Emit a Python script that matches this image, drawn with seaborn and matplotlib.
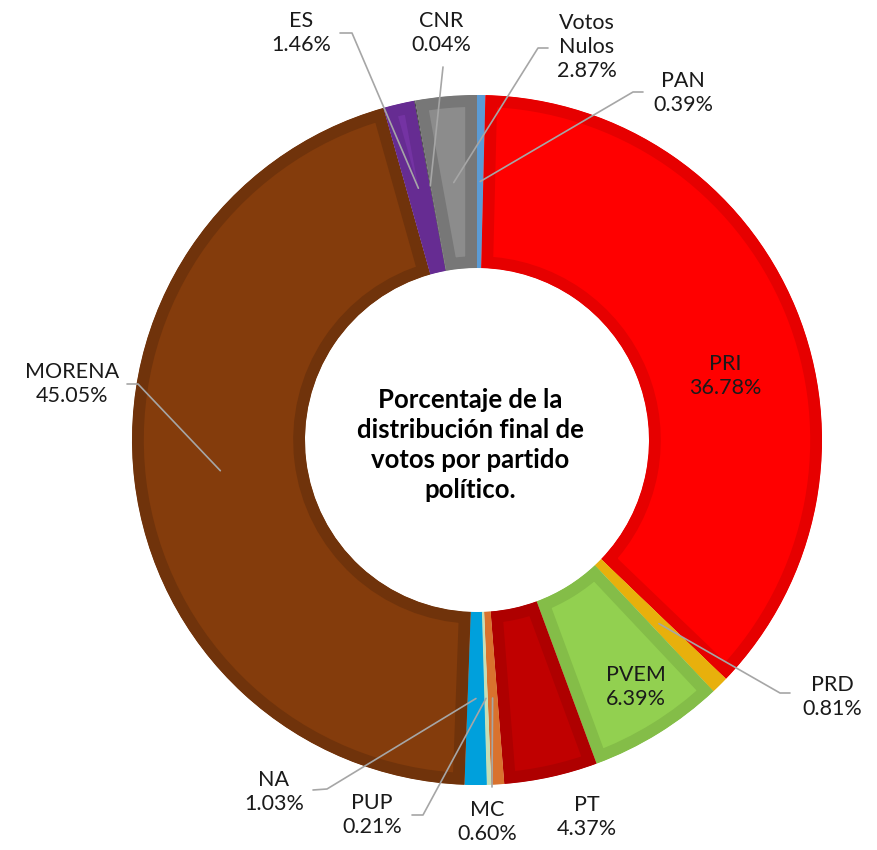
import matplotlib
matplotlib.use("Agg")
import matplotlib.pyplot as plt
import seaborn as sns
import numpy as np

#%% Data
partidos = ['PAN', 'PRI', 'PRD', 'PVEM', 'PT', 'MC', 'PUP', 'NA', 'MORENA', 'ES', 'CNR', 'Votos\nNulos']
porcentajes = [0.39, 36.78, 0.81, 6.39, 4.37, 0.60, 0.21, 1.03, 45.05, 1.46, 0.04, 2.87]
colores = ['#5B9BD5', '#FF0000', '#E8B00C', '#92D050', '#C00000', '#D9722E',
           '#C5DEB5', '#00A0DC', '#843C0C', '#7433A3', '#404040', '#8C8C8C']
bordes = ['#5B9BD5', '#E60000', '#E8B00C', '#84BD48', '#AE0000', '#D9722E',
          '#C5DEB5', '#00A0DC', '#70330B', '#662C92', '#404040', '#777777']

#%% Layout (pixel coords, y down)
cx, cy = 477, 440
R, R_in = 345, 172
label_pos = {
    'PAN': (683, 93), 'PRI': (725, 376), 'PRD': (832, 697), 'PVEM': (636, 687),
    'PT': (587, 817), 'MC': (487, 822), 'PUP': (372, 815), 'NA': (274, 792),
    'MORENA': (72, 384), 'ES': (301, 33), 'CNR': (441, 33), 'Votos\nNulos': (587, 47),
}
# leader line: start near the label, elbow, then to the wedge
leader = {
    'PAN': [(643, 92), (633, 92)], 'PRD': [(790, 693), (780, 693)],
    'MC': [(492, 787)], 'PUP': [(412, 815), (423, 815)],
    'NA': [(313, 790), (327, 789)], 'MORENA': [(127, 384), (138, 384)],
    'ES': [(340, 33), (352, 33)], 'CNR': [(443, 67)],
    'Votos\nNulos': [(548, 48), (538, 48)],
}

#%% Plot
sns.set_theme(style='white')
plt.rcParams['font.family'] = ['Lato', 'DejaVu Sans']

fig = plt.figure(figsize=(8.77, 8.5), dpi=100)
ax = fig.add_axes([0, 0, 1, 1])

wedges, _ = ax.pie(porcentajes, colors=colores, startangle=-90, counterclock=True,
                   radius=R, center=(cx, cy),
                   wedgeprops=dict(width=R - R_in, linewidth=0))
# darker border drawn only inside each wedge
for w, ec in zip(wedges, bordes):
    w.set_edgecolor(ec)
    w.set_linewidth(17)
    w.set_clip_on(True)
    w.set_clip_path(w)

ax.set_xlim(0, 877)
ax.set_ylim(850, 0)
ax.set_aspect('equal')
ax.axis('off')

# labels and leader lines
cum = np.cumsum([0] + porcentajes)
r_anchor = (R + R_in) / 2
for i, p in enumerate(partidos):
    tx, ty = label_pos[p]
    ax.text(tx, ty, '%s\n%.2f%%' % (p, porcentajes[i]), ha='center', va='center',
            fontsize=15.5, color='#1A1A1A', linespacing=1.22)
    if p in leader:
        mid = (cum[i] + cum[i + 1]) / 2 / 100.0
        ang = np.deg2rad(-90 + 360 * mid)
        ax_pt = (cx + r_anchor * np.cos(ang), cy + r_anchor * np.sin(ang))
        pts = leader[p] + [ax_pt]
        ax.plot([q[0] for q in pts], [q[1] for q in pts], color='#A6A6A6', lw=1.2)

# centre title
ax.text(cx - 7, 445, 'Porcentaje de la\ndistribución final de\nvotos por partido\npolítico.',
        ha='center', va='center', fontsize=18.5, fontweight='bold', color='black',
        linespacing=1.3)

plt.savefig('out.png', dpi=100)
